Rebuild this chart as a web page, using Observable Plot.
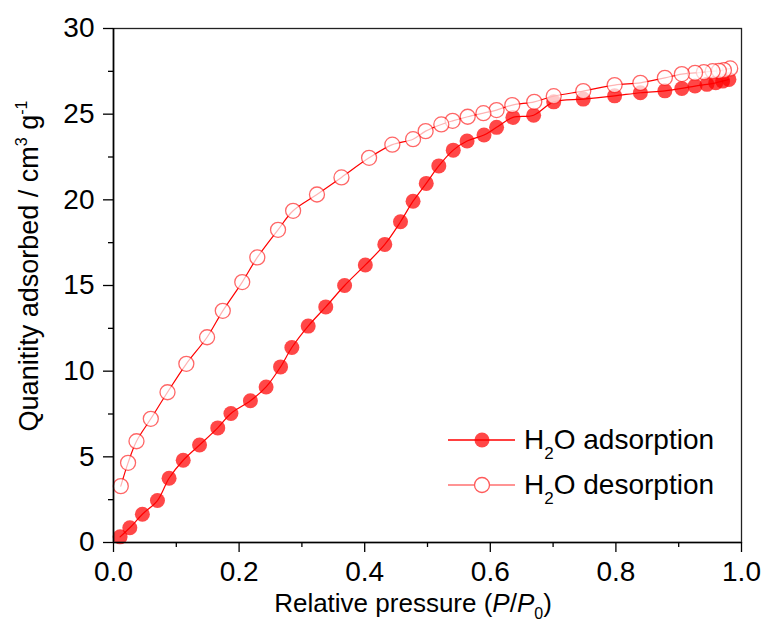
<!DOCTYPE html>
<html>
<head>
<meta charset="utf-8">
<script src="https://cdn.jsdelivr.net/npm/d3@7"></script>
<script src="https://cdn.jsdelivr.net/npm/@observablehq/plot@0.6"></script>
<style>
  html, body { margin: 0; padding: 0; background: #fff; }
  #chart svg { display: block; }
</style>
</head>
<body>
<div id="chart"></div>
<script>
// ---- Data ----
const adsorptionP = [0.0105,0.026,0.046,0.070,0.0885,0.111,0.137,0.166,0.187,0.218,0.243,0.266,0.284,0.310,0.338,0.368,0.401,0.432,0.457,0.477,0.498,0.518,0.541,0.563,0.590,0.610,0.636,0.669,0.701,0.748,0.798,0.839,0.878,0.905,0.926,0.945,0.959,0.970,0.980];
const adsorptionQ = [0.33,0.86,1.65,2.45,3.75,4.80,5.69,6.69,7.53,8.27,9.08,10.25,11.38,12.63,13.75,15.0,16.2,17.4,18.72,19.92,20.96,21.98,22.90,23.43,23.78,24.23,24.81,24.94,25.72,25.88,26.07,26.25,26.36,26.50,26.64,26.74,26.83,26.93,27.03];
const desorptionP = [0.982,0.972,0.964,0.954,0.940,0.926,0.905,0.878,0.839,0.798,0.748,0.701,0.670,0.635,0.610,0.589,0.564,0.540,0.522,0.497,0.477,0.444,0.407,0.363,0.324,0.286,0.262,0.229,0.205,0.174,0.149,0.116,0.086,0.0594,0.0366,0.0232,0.0116];
const desorptionQ = [27.67,27.57,27.53,27.51,27.45,27.41,27.34,27.12,26.83,26.70,26.35,26.05,25.72,25.53,25.24,25.06,24.85,24.61,24.40,24.01,23.54,23.22,22.45,21.31,20.31,19.36,18.25,16.64,15.20,13.52,11.98,10.43,8.77,7.22,5.91,4.65,3.29];
const xMajorTicks = [0, 0.2, 0.4, 0.6, 0.8, 1.0];
const xMinorTicks = [0.1, 0.3, 0.5, 0.7, 0.9];
const yMajorTicks = [0, 5, 10, 15, 20, 25, 30];
const yMinorTicks = [2.5, 7.5, 12.5, 17.5, 22.5, 27.5];
const seriesNames = ["adsorption", "desorption"];

const ads = adsorptionP.map((p, i) => ({p, q: adsorptionQ[i]}));
const des = desorptionP.map((p, i) => ({p, q: desorptionQ[i]}));

const FONT = "'Liberation Sans', Arial, Helvetica, sans-serif";
const RED = "#ff0000";

const chart = Plot.plot({
  width: 768,
  height: 631,
  marginLeft: 113,
  marginRight: 27,
  marginTop: 28,
  marginBottom: 89,
  style: {fontFamily: FONT, background: "#fff", color: "#000"},
  x: {domain: [0, 1]},
  y: {domain: [0, 30]},
  marks: [
    Plot.line(ads, {x: "p", y: "q", stroke: RED, strokeWidth: 1.2, curve: "catmull-rom"}),
    Plot.dot(ads, {x: "p", y: "q", r: 7.5, fill: RED, fillOpacity: 0.72, stroke: "none"}),
    Plot.line(des, {x: "p", y: "q", stroke: RED, strokeWidth: 1.2, curve: "catmull-rom"}),
    Plot.dot(des, {x: "p", y: "q", r: 7.5, fill: "#fff", fillOpacity: 0.7, stroke: RED, strokeOpacity: 0.6, strokeWidth: 1.3}),
    Plot.frame({stroke: "#222", strokeWidth: 1.3}),
    Plot.ruleX([0], {stroke: "#000", strokeWidth: 1.6}),
    Plot.ruleY([0], {stroke: "#000", strokeWidth: 1.6}),
    Plot.axisX(xMinorTicks, {tickSize: 5, fill: "none", label: null, stroke: "#000", strokeWidth: 1.3}),
    Plot.axisX(xMajorTicks, {tickSize: 10, tickPadding: 9, tickFormat: d3.format(".1f"), fontSize: 28, label: null, stroke: "#000", strokeWidth: 1.3}),
    Plot.axisY(yMinorTicks, {tickSize: 5, fill: "none", label: null, stroke: "#000", strokeWidth: 1.3}),
    Plot.axisY(yMajorTicks, {tickSize: 10, tickPadding: 9, tickFormat: d3.format("d"), fontSize: 28, label: null, stroke: "#000", strokeWidth: 1.3})
  ]
});

document.getElementById("chart").appendChild(chart);

// ---- Titles with sub/superscripts (real text) ----
const svg = d3.select(chart);

const xt = svg.append("text")
  .attr("x", 413).attr("y", 612)
  .attr("text-anchor", "middle")
  .attr("font-family", FONT).attr("font-size", 26).attr("fill", "#000");
xt.append("tspan").text("Relative pressure (");
xt.append("tspan").attr("font-style", "italic").text("P");
xt.append("tspan").text("/");
xt.append("tspan").attr("font-style", "italic").text("P");
xt.append("tspan").attr("font-size", 16).attr("dy", 7).text("0");
xt.append("tspan").attr("dy", -7).text(")");

const yt = svg.append("text")
  .attr("transform", "translate(38,266) rotate(-90)")
  .attr("text-anchor", "middle")
  .attr("font-family", FONT).attr("font-size", 27).attr("fill", "#000");
yt.append("tspan").text("Quanitity adsorbed / cm");
yt.append("tspan").attr("font-size", 16).attr("dy", -11).text("3");
yt.append("tspan").attr("dy", 11).text(" g");
yt.append("tspan").attr("font-size", 16).attr("dy", -11).text("-1");

// ---- Legend ----
const legendRows = [
  {name: seriesNames[0], y: 440, line: RED, fill: RED, fillOpacity: 0.72, stroke: "none"},
  {name: seriesNames[1], y: 485, line: "#ff7070", fill: "#fff", fillOpacity: 1, stroke: "#ff5a5a"}
];
const lg = svg.append("g").attr("text-anchor", "start");
legendRows.forEach(r => {
  lg.append("line").attr("x1", 448).attr("x2", 515).attr("y1", r.y).attr("y2", r.y)
    .attr("stroke", r.line).attr("stroke-width", 1.4);
  lg.append("circle").attr("cx", 482).attr("cy", r.y).attr("r", 7.5)
    .attr("fill", r.fill).attr("fill-opacity", r.fillOpacity)
    .attr("stroke", r.stroke).attr("stroke-width", 1.3);
  const t = lg.append("text").attr("x", 524).attr("y", r.y + 9)
    .attr("text-anchor", "start")
    .attr("font-family", FONT).attr("font-size", 28).attr("fill", "#000");
  t.append("tspan").text("H");
  t.append("tspan").attr("font-size", 17).attr("dy", 10).text("2");
  t.append("tspan").attr("dy", -10).text("O " + r.name);
});
</script>
</body>
</html>
